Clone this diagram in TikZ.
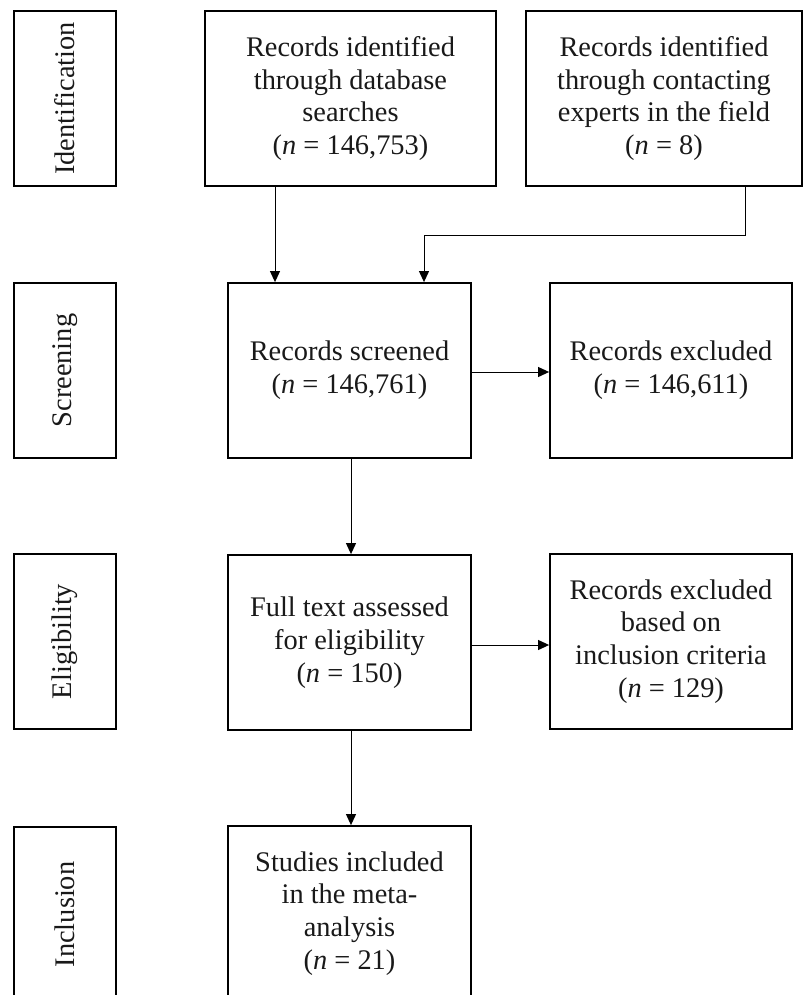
\documentclass[tikz,border=0pt]{standalone}
\usepackage{fontspec}
\setmainfont{Liberation Serif}
\usetikzlibrary{arrows.meta}
\begin{document}
\begin{tikzpicture}[x=1pt,y=-1pt,
  box/.style={draw,line width=1.8pt,align=center,inner sep=0pt,text=black!90,
    font=\fontsize{28.4}{32.7}\selectfont},
  stage/.style={box,rotate=90,minimum width=175,minimum height=102},
  arr/.style={line width=1pt,-{Triangle[length=11pt,width=10pt]}}]
\useasboundingbox (0,0) rectangle (803,995);
\clip (0,0) rectangle (803,995);
% stage labels
\node[stage] (L1) at (65,98.5) {Identification};
\node[stage] (L2) at (65,370.5) {Screening};
\node[stage] (L3) at (65,641.5) {Eligibility};
\node[stage] (L4) at (65,914.5) {Inclusion};
% main boxes
\node[box,minimum width=291,minimum height=175] (A) at (350.5,98.5)
  {Records identified\\through database\\searches\\(\textit{n} = 146,753)};
\node[box,minimum width=275.5,minimum height=175] (B) at (664,98.5)
  {Records identified\\through contacting\\experts in the field\\(\textit{n} = 8)};
\node[box,minimum width=243,minimum height=175] (S) at (349.5,370.5)
  {Records screened\\(\textit{n} = 146,761)};
\node[box,minimum width=242,minimum height=175] (E1) at (671,370.5)
  {Records excluded\\(\textit{n} = 146,611)};
\node[box,minimum width=243,minimum height=175] (F) at (349.5,642.5)
  {Full text assessed\\for eligibility\\(\textit{n} = 150)};
\node[box,minimum width=242,minimum height=175] (E2) at (671,641.5)
  {Records excluded\\based on\\inclusion criteria\\(\textit{n} = 129)};
\node[box,minimum width=243,minimum height=175] (I) at (349.5,913.5)
  {Studies included\\in the meta-\\analysis\\(\textit{n} = 21)};
% helper coordinates
\coordinate (xa) at (275,0);
\coordinate (xb) at (745,0);
\coordinate (xc) at (424,0);
\coordinate (yl) at (0,235);
\coordinate (xs) at (351,0);
\coordinate (y1) at (0,372);
\coordinate (y2) at (0,645);
% connectors
\draw[arr] (A.south -| xa) -- (S.north -| xa);
\draw[arr] (B.south -| xb) -- (xb |- yl) -| (S.north -| xc);
\draw[arr] (S.east |- y1) -- (E1.west |- y1);
\draw[arr] (S.south -| xs) -- (F.north -| xs);
\draw[arr] (F.east |- y2) -- (E2.west |- y2);
\draw[arr] (F.south -| xs) -- (I.north -| xs);
\end{tikzpicture}
\end{document}
